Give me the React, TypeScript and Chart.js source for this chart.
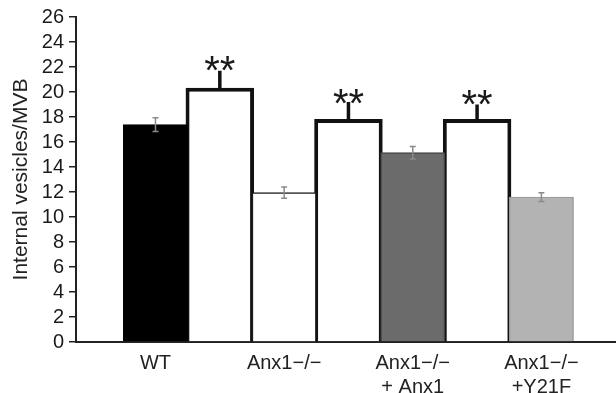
import React, { useEffect, useRef } from "react";
import { Chart, registerables } from "chart.js";

Chart.register(...registerables);

const tickLabels: (string | string[])[] = [
  "WT",
  "",
  "Anx1\u2212/\u2212",
  "",
  ["Anx1\u2212/\u2212", "+ Anx1"],
  "",
  ["Anx1\u2212/\u2212", "+Y21F"],
];
const values = [17.4, 20.35, 11.95, 17.85, 15.15, 17.85, 11.6];
const errors = [0.55, 0, 0.45, 0, 0.5, 0, 0.35];
const outlined = [false, true, false, true, false, true, false];
const stubTops: (number | null)[] = [null, 21.7, null, 19.2, null, 19.0, null];
const starCenters: (number | null)[] = [null, 22.3, null, 19.65, null, 19.55, null];
const starText = "**";
const fills = ["#000000", "#ffffff", "#ffffff", "#ffffff", "#6b6b6b", "#ffffff", "#b3b3b3"];
const edges = ["#000000", "#111111", "#1e1e1e", "#111111", "#454545", "#111111", "#9c9c9c"];
const yTicks = [0, 2, 4, 6, 8, 10, 12, 14, 16, 18, 20, 22, 24, 26];
const yTitle = "Internal vesicles/MVB";

const FONT = '"Liberation Sans", Arial, Helvetica, sans-serif';

const overlay = {
  id: "overlay",
  afterDatasetsDraw(chart: any) {
    const { ctx } = chart;
    const xs = chart.scales.x;
    const ys = chart.scales.y;
    ctx.save();
    values.forEach((v, i) => {
      const e = errors[i];
      if (!e) return;
      const x = xs.getPixelForValue(i);
      const y1 = ys.getPixelForValue(v - e);
      const y2 = ys.getPixelForValue(v + e);
      ctx.strokeStyle = "#8a8a8a";
      ctx.lineWidth = 1.5;
      ctx.beginPath();
      ctx.moveTo(x, y1);
      ctx.lineTo(x, y2);
      ctx.moveTo(x - 3, y1);
      ctx.lineTo(x + 3, y1);
      ctx.moveTo(x - 3, y2);
      ctx.lineTo(x + 3, y2);
      ctx.stroke();
    });
    values.forEach((v, i) => {
      const top = stubTops[i];
      if (top == null) return;
      const x = xs.getPixelForValue(i);
      ctx.strokeStyle = "#111111";
      ctx.lineWidth = 3.5;
      ctx.beginPath();
      ctx.moveTo(x, ys.getPixelForValue(v) + 1);
      ctx.lineTo(x, ys.getPixelForValue(top));
      ctx.stroke();
      const sc = starCenters[i];
      if (sc == null) return;
      ctx.font = `40px ${FONT}`;
      ctx.fillStyle = "#1a1a1a";
      ctx.textAlign = "center";
      ctx.textBaseline = "alphabetic";
      const m = ctx.measureText(starText);
      const cy = ys.getPixelForValue(sc);
      const yDraw = cy + (m.actualBoundingBoxAscent - m.actualBoundingBoxDescent) / 2;
      ctx.fillText(starText, x, yDraw);
    });
    ctx.restore();
  },
};

export default function App() {
  const ref = useRef<HTMLCanvasElement | null>(null);

  useEffect(() => {
    if (!ref.current) return;
    const thickData = values
      .map((v, i) => ({ x: i, y: v }))
      .filter((_, i) => outlined[i]);
    const plainIdx = values.map((_, i) => i).filter((i) => !outlined[i]);
    const plainData = plainIdx.map((i) => ({ x: i, y: values[i] }));

    const chart = new Chart(ref.current, {
      type: "bar",
      data: {
        datasets: [
          {
            data: plainData as any,
            backgroundColor: plainIdx.map((i) => fills[i]),
            borderColor: plainIdx.map((i) => edges[i]),
            borderWidth: 1.5,
            barPercentage: 1.0,
            categoryPercentage: 1.0,
            grouped: false,
            order: 1,
          } as any,
          {
            data: thickData as any,
            backgroundColor: "#ffffff",
            borderColor: "#111111",
            borderWidth: 4,
            barPercentage: 1.065,
            categoryPercentage: 1.0,
            grouped: false,
            order: 2,
          } as any,
        ],
      },
      options: {
        responsive: false,
        animation: false,
        layout: { padding: { top: 17, left: 0, right: 0, bottom: 0 } },
        plugins: {
          legend: { display: false },
          tooltip: { enabled: false },
        },
        scales: {
          x: {
            type: "linear",
            offset: false,
            min: -1.236,
            max: 7.16,
            afterFit: (s: any) => {
              s.height = 51;
            },
            afterBuildTicks: (s: any) => {
              s.ticks = tickLabels.map((_, i) => ({ value: i }));
            },
            ticks: {
              autoSkip: false,
              maxRotation: 0,
              minRotation: 0,
              padding: 1,
              color: "#222222",
              font: { family: FONT, size: 20, lineHeight: 1.2 },
              callback: (v: any) => {
                const i = Math.round(Number(v));
                return tickLabels[i] ?? "";
              },
            },
            grid: { display: false },
            border: { display: true, color: "#222222", width: 2 },
          },
          y: {
            min: 0,
            max: 26,
            afterFit: (s: any) => {
              s.width = 76;
            },
            afterBuildTicks: (s: any) => {
              s.ticks = yTicks.map((v) => ({ value: v }));
            },
            ticks: {
              autoSkip: false,
              padding: 5,
              color: "#1a1a1a",
              font: { family: FONT, size: 20 },
            },
            grid: {
              drawOnChartArea: false,
              drawTicks: true,
              tickLength: 7,
              color: "#222222",
              lineWidth: 1.5,
            },
            border: { display: true, color: "#222222", width: 2 },
            title: {
              display: true,
              text: yTitle,
              color: "#222222",
              font: { family: FONT, size: 21 },
              padding: { top: 9, bottom: 2 },
            },
          },
        },
      },
      plugins: [overlay],
    });
    return () => chart.destroy();
  }, []);

  return (
    <div style={{ position: "fixed", left: 0, top: 0, width: 616, height: 393, background: "#fff" }}>
      <canvas ref={ref} width={616} height={393} />
    </div>
  );
}
